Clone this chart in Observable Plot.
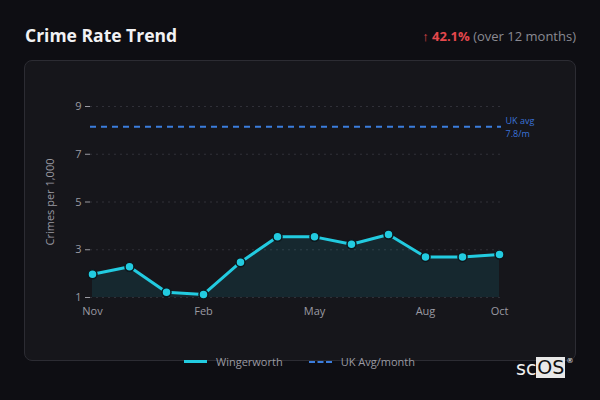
<!DOCTYPE html>
<html><head><meta charset="utf-8">
<script src="https://cdn.jsdelivr.net/npm/d3@7"></script>
<script src="https://cdn.jsdelivr.net/npm/@observablehq/plot@0.6"></script>
<style>
html,body{margin:0;padding:0;background:#0e0e13;width:600px;height:400px;overflow:hidden;font-family:"Open Sans","Noto Sans",sans-serif;}
#title{position:absolute;left:25px;top:23px;font-size:17.5px;font-weight:700;color:#f2f2f4;}
#change{position:absolute;right:24px;top:27px;font-size:13px;color:#8a8a92;}
#change .up{color:#e5484d;font-weight:700;}
#card{position:absolute;left:24px;top:60px;width:550px;height:299px;border:1px solid #2c2c33;border-radius:8px;background:#16161b;}
#chart{position:absolute;left:24px;top:60px;}
#legend{position:absolute;left:184px;top:354px;font-size:11px;color:#9a9aa2;display:flex;align-items:center;}
#legend .sw{display:inline-block;width:23px;height:0;margin-right:9px;}
#logo{position:absolute;left:516px;top:357px;font-family:"DejaVu Sans",sans-serif;font-size:19px;color:#f0f0f0;display:flex;align-items:flex-start;}
#logo .os{background:#e8e8e8;color:#111;padding:0 1px;line-height:21px;}
#logo sup{font-size:7px;margin-left:1px;}
</style></head>
<body>
<div id="title">Crime Rate Trend</div>
<div id="change"><span class="up">↑ 42.1%</span> (over 12 months)</div>
<div id="card"></div>
<div id="chart"></div>
<div id="legend">
  <span class="sw" style="border-top:3px solid #22cbe0;"></span><span style="margin-right:26px">Wingerworth</span>
  <span class="sw" style="border-top:2px dashed #3b7ddd;"></span><span>UK Avg/month</span>
</div>
<div id="logo"><span>sc</span><span class="os">OS</span><sup>®</sup></div>
<script>
const months = ["Nov","Dec","Jan","Feb","Mar","Apr","May","Jun","Jul","Aug","Sep","Oct"];
const rates = [1.97, 2.29, 1.22, 1.13, 2.48, 3.54, 3.54, 3.23, 3.64, 2.70, 2.70, 2.80];
const xTicks = ["Nov","Feb","May","Aug","Oct"];
const yTicks = [1,3,5,7,9];
const ukAvgLine = 8.15;
const ukAvgTop = "UK avg";
const ukAvgBottom = "7.8/m";

const data = months.map((m,i)=>({month:m, rate:rates[i]}));

const chart = Plot.plot({
  width: 552,
  height: 270,
  marginLeft: 66,
  marginRight: 75,
  marginTop: 46,
  marginBottom: 33,
  style: {background:"transparent", color:"#9a9aa2", fontSize:"11px", fontFamily:"'Open Sans','Noto Sans',sans-serif"},
  x: {type:"point", domain: months, padding:0, ticks: xTicks, tickSize:0, tickPadding:10, label:null},
  y: {domain:[1,9], ticks: yTicks, tickSize:5, tickPadding:4, label:"Crimes per 1,000", labelAnchor:"center", labelArrow:"none", labelOffset:44},
  marks: [
    Plot.gridY(yTicks, {stroke:"#303038", strokeOpacity:1, strokeDasharray:"2,4"}),
    Plot.areaY(data, {x:"month", y1:1, y2:"rate", fill:"#22cbe0", fillOpacity:0.1}),
    Plot.ruleY([ukAvgLine], {stroke:"#3b7ddd", strokeWidth:2, strokeDasharray:"6,5"}),
    Plot.text([ukAvgTop], {x:()=>"Oct", y:()=>ukAvgLine, text:d=>d, textAnchor:"start", lineAnchor:"middle", dx:6, dy:-6, fill:"#3b73d8", fontSize:9}),
    Plot.text([ukAvgBottom], {x:()=>"Oct", y:()=>ukAvgLine, text:d=>d, textAnchor:"start", lineAnchor:"middle", dx:6, dy:7, fill:"#3b73d8", fontSize:9}),
    Plot.line(data, {x:"month", y:"rate", stroke:"#22cbe0", strokeWidth:3}),
    Plot.dot(data, {x:"month", y:"rate", r:4.5, fill:"#22cbe0", stroke:"#0d161b", strokeWidth:1.5})
  ]
});
document.getElementById("chart").appendChild(chart);
</script>
</body></html>
